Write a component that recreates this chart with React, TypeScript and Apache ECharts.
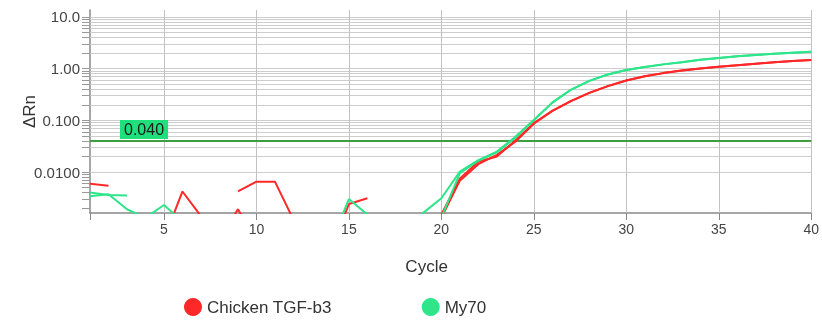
import React, { useEffect, useRef } from 'react';
import * as echarts from 'echarts';

const cycles = [1, 2, 3, 4, 5, 6, 7, 8, 9, 10, 11, 12, 13, 14, 15, 16, 17, 18, 19, 20,
  21, 22, 23, 24, 25, 26, 27, 28, 29, 30, 31, 32, 33, 34, 35, 36, 37, 38, 39, 40];

// Chicken TGF-b3 replicate wells
const redA = [0.0059, 0.0054, null, null, 0.0005, 0.0042, 0.0014, 0.0005, 0.0019, 0.0005,
  null, null, null, null, null, null, null, null, null, 0.0015,
  0.0075, 0.0158, 0.0200, 0.0407, 0.088, 0.152, 0.235, 0.34, 0.46, 0.59,
  0.71, 0.82, 0.92, 1.01, 1.09, 1.17, 1.25, 1.33, 1.40, 1.47];
const redB = [null, null, null, null, null, null, null, null, 0.0042, 0.0065,
  0.0065, 0.0012, null, 0.0003, 0.0024, 0.0031, null, null, null, 0.0013,
  0.0068, 0.0142, 0.0215, 0.0385, 0.086, 0.152, 0.235, 0.34, 0.46, 0.59,
  0.71, 0.82, 0.92, 1.01, 1.09, 1.17, 1.25, 1.33, 1.40, 1.47];
// My70 replicate wells
const greenA = [0.0040, 0.0036, 0.0035, null, null, null, null, null, null, null,
  null, null, null, null, null, null, null, null, null, 0.0013,
  0.0095, 0.0165, 0.0240, 0.046, 0.100, 0.22, 0.39, 0.58, 0.77, 0.94,
  1.08, 1.21, 1.33, 1.48, 1.61, 1.73, 1.84, 1.94, 2.03, 2.12];
const greenB = [0.0034, 0.0037, 0.0019, 0.0013, 0.0023, 0.0011, null, null, null, null,
  null, null, null, 0.0004, 0.0030, 0.0015, null, 0.0005, 0.0016, 0.0031,
  0.0102, 0.017, 0.0248, 0.048, 0.102, 0.22, 0.39, 0.58, 0.77, 0.94,
  1.08, 1.21, 1.33, 1.48, 1.61, 1.73, 1.84, 1.94, 2.03, 2.12];

const seriesNames = ['Chicken TGF-b3', 'My70'];
const xLabelValues = [5, 10, 15, 20, 25, 30, 35, 40];
const xTickValues = [1, 5, 10, 15, 20, 25, 30, 35, 40];
const yLabelValues = [0.01, 0.1, 1, 10];
const yGridValues = [
  0.002, 0.003, 0.004, 0.005, 0.006, 0.007, 0.008, 0.009,
  0.01, 0.02, 0.03, 0.04, 0.05, 0.06, 0.07, 0.08, 0.09,
  0.1, 0.2, 0.3, 0.4, 0.5, 0.6, 0.7, 0.8, 0.9,
  1, 2, 3, 4, 5, 6, 7, 8, 9, 10,
];
const threshold = 0.04;
const thresholdLabel = '0.040';

const RED = '#ff2828';
const GREEN = '#2ee58a';
const FONT = 'Liberation Sans, Arial, sans-serif';

const toPairs = (vals: (number | null)[]) => cycles.map((c, i) => [c, vals[i] == null ? null : vals[i]]);

export default function App() {
  const ref = useRef<HTMLDivElement>(null);
  useEffect(() => {
    if (!ref.current) return;
    const chart = echarts.init(ref.current, undefined, { renderer: 'svg' });
    const lineSeries = (name: string, vals: (number | null)[], color: string) => ({
      type: 'line',
      name,
      data: toPairs(vals),
      showSymbol: false,
      symbol: 'none',
      connectNulls: false,
      clip: true,
      color,
      itemStyle: { color },
      lineStyle: { color, width: 2 },
      z: 10,
    });
    chart.setOption({
      animation: false,
      textStyle: { fontFamily: FONT },
      grid: { left: 90, right: 10, top: 10, bottom: 107 },
      legend: {
        data: seriesNames,
        left: 179,
        top: 293,
        icon: 'circle',
        itemWidth: 18,
        itemHeight: 18,
        itemGap: 90,
        textStyle: { fontSize: 17, color: '#333', fontFamily: FONT },
      },
      xAxis: {
        type: 'value',
        min: 1,
        max: 40,
        name: 'Cycle',
        nameLocation: 'middle',
        nameGap: 45,
        nameMoveOverlap: false,
        nameTextStyle: { fontSize: 17, color: '#333', fontFamily: FONT, padding: [0, 48, 0, 0] },
        axisLine: { show: true, lineStyle: { color: '#888', width: 1.5 } },
        axisTick: { show: true, length: 7, customValues: xTickValues, lineStyle: { color: '#888' } },
        axisLabel: { customValues: xLabelValues, color: '#444', fontSize: 14, margin: 9, fontFamily: FONT },
        splitLine: { show: false },
      },
      yAxis: {
        type: 'log',
        logBase: 10,
        min: 0.00161,
        max: 13.65,
        name: 'ΔRn',
        nameLocation: 'middle',
        nameGap: 52,
        nameRotate: 90,
        nameMoveOverlap: false,
        nameTextStyle: { fontSize: 17, color: '#333', fontFamily: FONT },
        axisLine: { show: true, lineStyle: { color: '#888', width: 1.5 } },
        axisTick: { show: true, length: 8, customValues: yGridValues, lineStyle: { color: '#999' } },
        axisLabel: {
          customValues: yLabelValues,
          color: '#444',
          fontSize: 15,
          margin: 10,
          fontFamily: FONT,
          formatter: (v: number) => Number(v).toPrecision(3),
        },
        splitLine: { show: false },
      },
      series: [
        {
          type: 'line',
          name: 'grid',
          data: [],
          z: 1,
          markLine: {
            silent: true,
            z: 1,
            symbol: ['none', 'none'],
            animation: false,
            label: { show: false },
            lineStyle: { color: '#cdcdcd', width: 1.2, type: 'solid' },
            data: [
              ...yGridValues.map((v) => ({ yAxis: v })),
              ...xLabelValues.map((v) => ({ xAxis: v, lineStyle: { color: '#c2c2c2', width: 1, type: 'solid' } })),
              {
                yAxis: threshold,
                lineStyle: { color: '#3f9e3f', width: 2, type: 'solid' },
                label: {
                  show: true,
                  position: 'insideStartTop',
                  formatter: thresholdLabel,
                  backgroundColor: '#1fe07d',
                  color: '#1a1a1a',
                  fontSize: 16,
                  fontFamily: FONT,
                  padding: [2, 4, 1, 4],
                  distance: [30, 2],
                },
              },
            ],
          },
        },
        lineSeries(seriesNames[0], redB, RED),
        lineSeries(seriesNames[0], redA, RED),
        lineSeries(seriesNames[1], greenB, GREEN),
        lineSeries(seriesNames[1], greenA, GREEN),
      ],
    });
    return () => chart.dispose();
  }, []);
  return <div ref={ref} style={{ position: 'fixed', left: 0, top: 0, width: 822, height: 320 }} />;
}
